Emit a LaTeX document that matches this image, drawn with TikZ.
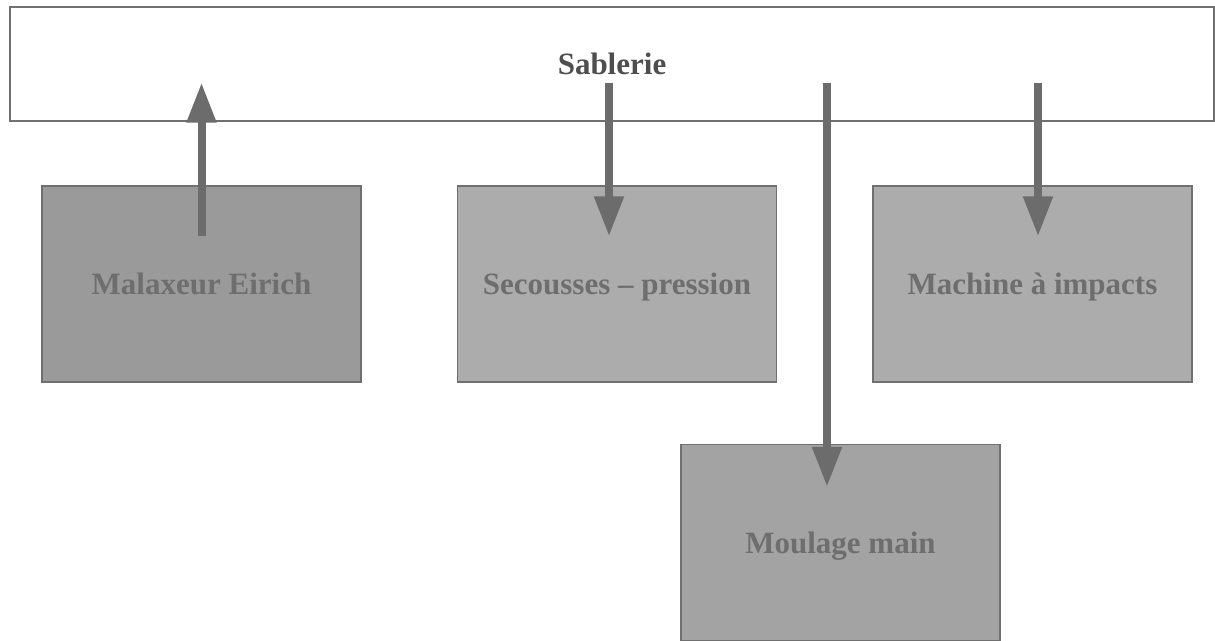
\documentclass[tikz,border=0pt]{standalone}
\usepackage{fontspec}
\setmainfont{Liberation Serif}
\usetikzlibrary{arrows.meta, positioning}
\definecolor{darkbox}{HTML}{9A9A9A}
\definecolor{lightbox}{HTML}{ACACAC}
\definecolor{midbox}{HTML}{A3A3A3}
\definecolor{flowgray}{HTML}{6C6C6C}
\definecolor{framegray}{HTML}{707070}
\definecolor{labelgray}{HTML}{6E6E6E}
\definecolor{titlegray}{HTML}{4E4E4E}

\begin{document}
\begin{tikzpicture}[
        x=1pt, y=1pt, node distance=1pt, on grid,
        every node/.style={font=\fontsize{31}{36}\selectfont\bfseries, inner sep=0pt, text height=22pt, text depth=0pt},
        unit/.style={draw=framegray, line width=1.2pt, minimum width=319pt, minimum height=196pt, text=labelgray},
        flow/.style={draw=flowgray, line width=8pt, -{Triangle[width=28pt,length=40pt]}},
        ]
        \useasboundingbox (0,0) rectangle (1215,640);

        \node[draw=framegray, line width=1.2pt, minimum width=1204pt, minimum height=114pt, text=titlegray] (sablerie) at (612,576) {Sablerie};

        \node[unit, fill=darkbox, below left=220pt and 410.5pt of sablerie] (malaxeur) {Malaxeur Eirich};
        \node[unit, fill=lightbox, right=415.5pt of malaxeur] (secousses) {Secousses -- pression};
        \node[unit, fill=lightbox, right=415.5pt of secousses] (machine) {Machine à impacts};
        \node[unit, fill=midbox, below right=258.5pt and 223.5pt of secousses] (moulage) {Moulage main};

        % sand flows
        \draw[flow] ([yshift=-51pt]malaxeur.north) -- ([yshift=39pt]sablerie.south -| malaxeur.north);
        \draw[flow] ([xshift=-8pt,yshift=39pt]sablerie.south -| secousses.north) -- ([xshift=-8pt,yshift=-51pt]secousses.north);
        \draw[flow] ([xshift=-13.5pt,yshift=39pt]sablerie.south -| moulage.north) -- ([xshift=-13.5pt,yshift=-43pt]moulage.north);
        \draw[flow] ([xshift=5.5pt,yshift=39pt]sablerie.south -| machine.north) -- ([xshift=5.5pt,yshift=-51pt]machine.north);
      \end{tikzpicture}
\end{document}
